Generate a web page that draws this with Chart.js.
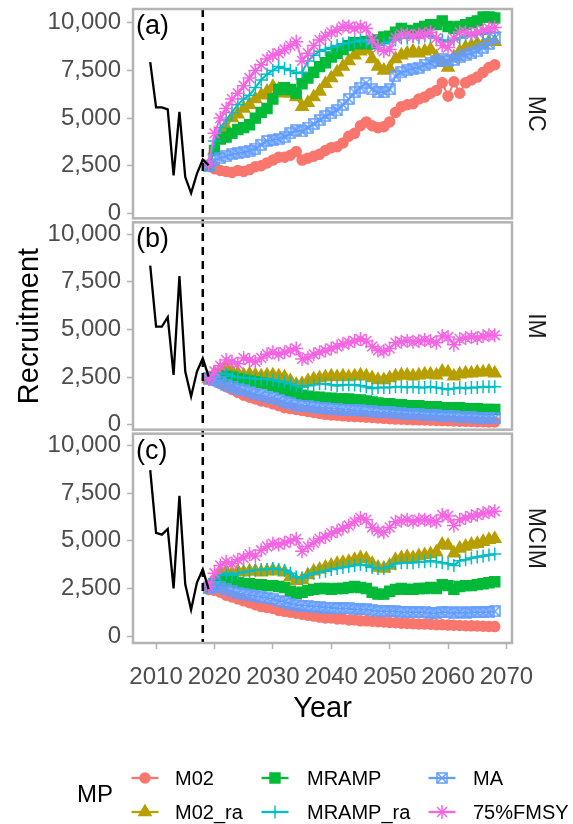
<!DOCTYPE html>
<html>
<head>
<meta charset="utf-8">
<title>Recruitment by MP</title>
<script src="https://cdn.jsdelivr.net/npm/chart.js@4.4.1/dist/chart.umd.min.js"></script>
<style>
  html, body { margin: 0; padding: 0; background: #fff; }
  #wrap { position: relative; width: 573px; height: 824px; }
</style>
</head>
<body>
<div id="wrap"><canvas id="chart" width="573" height="824"></canvas></div>
<script>
var years = [2019,2020,2021,2022,2023,2024,2025,2026,2027,2028,
  2029,2030,2031,2032,2033,2034,2035,2036,2037,2038,
  2039,2040,2041,2042,2043,2044,2045,2046,2047,2048,
  2049,2050,2051,2052,2053,2054,2055,2056,2057,2058,
  2059,2060,2061,2062,2063,2064,2065,2066,2067,2068];
var histYears = [2009,2010,2011,2012,2013,2014,2015,2016,2017,2018,2019];

var mpNames = ['M02', 'M02_ra', 'MRAMP', 'MRAMP_ra', 'MA', '75%FMSY'];
var panelNames = ['MC', 'IM', 'MCIM'];
var panelTags = ['(a)', '(b)', '(c)'];

var xTicks = [2010, 2020, 2030, 2040, 2050, 2060, 2070];
var yTicks = [0, 2500, 5000, 7500, 10000];
var yTickLabels = ['0', '2,500', '5,000', '7,500', '10,000'];
var vlineYear = 2018;

// historical recruitment
var histMC = [7930,5560,5560,5460,2000,5330,1910,1070,2090,2830,2530];
var histIM = [8340,5150,5150,5640,2620,7800,2790,1480,2790,3490,2530];
var histMCIM = [8700,5410,5320,5620,2500,7350,2720,1390,2810,3500,2460];

// (a) MC
var mcM02 = [2550,2350,2250,2200,2150,2250,2200,2300,2450,2500,
  2650,2800,2950,2950,3050,3250,2800,2900,3000,3100,
  3300,3450,3500,3700,4050,4200,4600,4800,4600,4500,
  4550,4800,5300,5600,5700,5750,6000,6100,6300,6450,
  6850,6150,6900,6300,6850,7000,7150,7400,7650,7800];
var mcM02ra = [2500,3300,4000,4500,5000,5200,5500,5700,6000,6200,
  6400,6650,6500,6300,6300,6100,5600,5800,6100,6400,
  6800,7100,7400,7700,8000,8300,8500,8600,8100,7700,
  7500,7600,8100,8300,8400,8500,8400,8500,8600,8200,
  7900,7650,8200,8500,8700,8800,8900,8850,9000,9000];
var mcMRAMP = [2500,3300,3900,4000,4200,4400,4500,4650,5000,5300,
  5500,6000,6500,6600,6500,6300,6800,7100,7400,7700,
  7900,8200,8400,8600,8800,8950,8900,9000,8900,9100,
  9250,9300,9500,9700,9600,9500,9700,9800,9900,9900,
  10100,9800,9700,9800,9900,10000,10100,10300,10300,10250];
var mcMRAMPra = [2500,3800,4500,4900,5300,5700,6000,6200,6600,7000,
  7300,7500,7700,7600,7500,7350,7400,8000,8300,8500,
  8600,8700,8800,8900,8950,9000,9100,9000,8900,8800,
  8900,9000,9100,9200,9200,9300,9200,9300,9300,9200,
  9100,9000,9100,9200,9300,9300,9400,9400,9500,9500];
var mcMA = [2500,2800,2900,3000,3100,3150,3200,3300,3400,3600,
  3800,3850,3900,4000,4200,4350,4300,4500,4700,4900,
  5100,5250,5400,5700,6000,6350,6600,6850,6500,6350,
  6350,6500,7200,7400,7500,7600,7650,7800,7900,8000,
  8100,8000,8050,8200,8300,8400,8500,8700,8900,9200];
var mcFMSY = [2600,4200,5000,5500,6000,6300,6700,7100,7500,7800,
  8100,8300,8400,8600,8800,9000,8000,8400,8800,9100,
  9300,9500,9600,9800,9800,9700,9800,9700,9100,8700,
  8500,8600,9200,9400,9400,9300,9400,9400,9500,9200,
  8800,8700,9200,9500,9500,9400,9500,9600,9700,9750];

// (b) IM
var imM02 = [2400,2300,2150,2000,1850,1700,1550,1450,1350,1250,
  1200,1100,1000,900,850,800,750,700,650,600,
  550,520,500,470,450,430,420,400,380,360,
  340,320,300,290,280,270,260,250,240,230,
  220,210,200,190,180,170,160,160,150,150];
var imM02ra = [2400,2700,2900,3000,2800,2700,2600,2650,2600,2550,
  2600,2600,2550,2500,2300,2100,2150,2300,2400,2450,
  2500,2550,2500,2550,2500,2550,2600,2550,2450,2350,
  2350,2450,2550,2600,2600,2550,2600,2650,2650,2600,
  2800,2750,2550,2650,2700,2700,2750,2750,2800,2700];
var imMRAMP = [2450,2500,2550,2550,2500,2400,2350,2300,2250,2200,
  2150,2050,1950,1850,1750,1650,1550,1500,1450,1450,
  1400,1400,1350,1350,1350,1300,1300,1250,1200,1150,
  1100,1100,1050,1050,1000,1000,1000,950,950,950,
  900,900,900,900,850,850,850,800,800,800];
var imMRAMPra = [2450,2600,2700,2650,2550,2500,2450,2450,2400,2400,
  2400,2350,2300,2250,2150,2050,2000,2050,2100,2150,
  2150,2100,2050,2100,2100,2100,2050,2000,1900,1950,
  1950,1950,2000,2000,1950,2000,1950,1950,2000,1950,
  1900,1850,1900,1950,1900,1950,1950,2000,2000,2000];
var imMA = [2400,2350,2250,2100,2000,1900,1800,1700,1600,1550,
  1450,1400,1300,1200,1150,1050,1000,1000,950,900,
  900,850,850,800,800,750,750,700,700,650,
  650,650,600,600,550,550,550,500,500,500,
  450,450,450,400,400,400,380,370,350,350];
var imFMSY = [2400,2800,3100,3400,3300,3200,3500,3400,3300,3500,
  3700,3800,3700,3800,3900,4000,3450,3500,3700,3800,
  3900,4000,4100,4250,4300,4400,4500,4400,4100,3900,
  3850,4000,4300,4350,4400,4350,4400,4450,4400,4300,
  4650,4600,4200,4500,4550,4600,4550,4650,4700,4700];

// (c) MCIM
var mcimM02 = [2450,2400,2300,2150,2050,1950,1850,1750,1650,1550,
  1500,1450,1350,1300,1250,1200,1150,1100,1050,1000,
  950,950,900,900,850,850,800,800,780,760,
  740,720,700,680,660,650,640,630,620,600,
  600,580,570,560,550,540,530,520,510,500];
var mcimM02ra = [2600,3000,3300,3400,3300,3400,3350,3400,3400,3350,
  3400,3450,3400,3350,3100,2900,2950,3200,3400,3500,
  3600,3700,3800,3850,3900,4000,4100,4050,3800,3600,
  3550,3700,4000,4100,4150,4100,4200,4250,4300,4400,
  4800,4750,4350,4600,4700,4800,4850,4950,5050,5100];
var mcimMRAMP = [2550,2750,2850,2900,2850,2800,2750,2750,2700,2700,
  2650,2650,2600,2550,2350,2250,2300,2400,2450,2500,
  2500,2450,2500,2500,2550,2600,2550,2500,2300,2200,
  2200,2350,2450,2500,2450,2450,2500,2500,2550,2500,
  2700,2650,2450,2600,2650,2650,2700,2750,2800,2850];
var mcimMRAMPra = [2600,3000,3200,3300,3200,3300,3350,3400,3450,3500,
  3500,3550,3500,3450,3300,3100,3050,3200,3300,3350,
  3400,3500,3550,3600,3650,3700,3750,3700,3600,3550,
  3550,3650,3800,3850,3850,3850,3900,3900,3950,3900,
  3850,3800,3700,3950,4000,4100,4150,4200,4250,4300];
var mcimMA = [2500,2550,2550,2450,2350,2250,2200,2150,2100,2050,
  2000,1950,1850,1800,1700,1650,1600,1600,1550,1550,
  1500,1500,1450,1450,1450,1400,1400,1400,1350,1300,
  1300,1300,1300,1250,1250,1250,1250,1250,1200,1200,
  1250,1250,1200,1250,1200,1250,1250,1250,1250,1300];
var mcimFMSY = [2600,3300,3700,3900,3800,4000,4100,4300,4200,4500,
  4700,4850,4800,4900,5000,5100,4450,4700,4900,5100,
  5200,5400,5500,5650,5800,6000,6200,6100,5700,5500,
  5450,5700,6000,6050,6100,6000,6100,6100,6050,6000,
  6350,6300,5800,6100,6200,6300,6350,6450,6500,6550];

(function () {
  var FONT = '"Liberation Sans", Arial, sans-serif';
  // each facet gets its own band of one shared y axis
  var Y_MIN = -360, Y_SPAN = 11080;
  var panelOffset = [2 * Y_SPAN, Y_SPAN, 0];
  var panelHist = [histMC, histIM, histMCIM];
  var panelSeries = [
    [mcM02, mcM02ra, mcMRAMP, mcMRAMPra, mcMA, mcFMSY],
    [imM02, imM02ra, imMRAMP, imMRAMPra, imMA, imFMSY],
    [mcimM02, mcimM02ra, mcimMRAMP, mcimMRAMPra, mcimMA, mcimFMSY]
  ];

  function boxX(color) {
    var c = document.createElement('canvas');
    c.width = 12; c.height = 12;
    var g = c.getContext('2d');
    g.strokeStyle = color;
    g.lineWidth = 1.5;
    g.strokeRect(1, 1, 10, 10);
    g.beginPath();
    g.moveTo(1, 1); g.lineTo(11, 11);
    g.moveTo(11, 1); g.lineTo(1, 11);
    g.stroke();
    return c;
  }

  var mpStyles = [
    { color: '#F8766D', point: 'circle', radius: 5 },
    { color: '#B79F00', point: 'triangle', radius: 7 },
    { color: '#00BA38', point: 'rect', radius: 7 },
    { color: '#00BFC4', point: 'cross', radius: 6.5 },
    { color: '#619CFF', point: boxX('#619CFF'), radius: 6 },
    { color: '#F564E3', point: 'star', radius: 7 }
  ];

  function toPoints(xs, vals, off) {
    return vals.map(function (v, i) { return { x: xs[i], y: v + off }; });
  }

  var datasets = [];
  panelSeries.forEach(function (series, pi) {
    var off = panelOffset[pi];
    datasets.push({
      label: 'history',
      data: toPoints(histYears, panelHist[pi], off),
      borderColor: '#000', borderWidth: 2.3, pointRadius: 0, order: 0
    });
    series.forEach(function (vals, si) {
      var st = mpStyles[si];
      datasets.push({
        label: mpNames[si],
        data: toPoints(years, vals, off),
        borderColor: st.color, backgroundColor: st.color, borderWidth: 2,
        pointStyle: st.point, pointRadius: st.radius, pointBorderWidth: 1.5,
        pointBackgroundColor: st.color, pointBorderColor: st.color,
        order: 10 - si
      });
    });
  });

  function panelBox(chart, pi) {
    var y = chart.scales.y, a = chart.chartArea;
    var top = y.getPixelForValue(Y_MIN + (3 - pi) * Y_SPAN) + (pi > 0 ? 2 : 0);
    var bottom = y.getPixelForValue(Y_MIN + (2 - pi) * Y_SPAN) - (pi < 2 ? 2 : 0);
    return { left: a.left, right: a.right, top: top, bottom: bottom };
  }

  var facetPlugin = {
    id: 'facets',
    afterDatasetsDraw: function (chart) {
      var ctx = chart.ctx, a = chart.chartArea;
      var vx = chart.scales.x.getPixelForValue(vlineYear);
      ctx.save();
      ctx.strokeStyle = '#000';
      ctx.lineWidth = 2.5;
      ctx.setLineDash([8, 6]);
      ctx.beginPath();
      ctx.moveTo(vx, a.top);
      ctx.lineTo(vx, a.bottom);
      ctx.stroke();
      ctx.setLineDash([]);
      ctx.strokeStyle = '#B3B3B3';
      ctx.lineWidth = 2.5;
      for (var pi = 0; pi < 3; pi++) {
        var b = panelBox(chart, pi);
        ctx.strokeRect(b.left, b.top, b.right - b.left, b.bottom - b.top);
      }
      ctx.restore();
    },
    afterDraw: function (chart) {
      var ctx = chart.ctx, a = chart.chartArea;
      ctx.save();
      for (var pi = 0; pi < 3; pi++) {
        var b = panelBox(chart, pi);
        ctx.fillStyle = '#000';
        ctx.font = '27px ' + FONT;
        ctx.textAlign = 'left';
        ctx.textBaseline = 'alphabetic';
        ctx.fillText(panelTags[pi], 136, b.top + 25);

        ctx.save();
        ctx.translate(535, (b.top + b.bottom) / 2);
        ctx.rotate(Math.PI / 2);
        ctx.fillStyle = '#1A1A1A';
        ctx.font = '23px ' + FONT;
        ctx.textAlign = 'center';
        ctx.textBaseline = 'middle';
        ctx.fillText(panelNames[pi], 0, 0);
        ctx.restore();
      }

      ctx.fillStyle = '#000';
      ctx.font = '29px ' + FONT;
      ctx.textAlign = 'center';
      ctx.textBaseline = 'middle';
      ctx.fillText('Year', (a.left + a.right) / 2, 709);
      ctx.save();
      ctx.translate(30, (a.top + a.bottom) / 2);
      ctx.rotate(-Math.PI / 2);
      ctx.fillText('Recruitment', 0, 0);
      ctx.restore();

      // legend, filled by column like ggplot
      ctx.textAlign = 'left';
      ctx.font = '24px ' + FONT;
      ctx.fillText('MP', 77, 795);
      var colKey = [145, 275, 442];
      var colText = [175, 307, 473];
      var rowY = [778, 812];
      ctx.font = '20px ' + FONT;
      mpNames.forEach(function (name, i) {
        var col = Math.floor(i / 2), row = i % 2, st = mpStyles[i];
        var cx = colKey[col], cy = rowY[row];
        ctx.strokeStyle = st.color;
        ctx.fillStyle = st.color;
        ctx.lineWidth = 2.3;
        ctx.beginPath();
        ctx.moveTo(cx - 13.5, cy);
        ctx.lineTo(cx + 13.5, cy);
        ctx.stroke();
        ctx.lineWidth = 1.5;
        Chart.helpers.drawPoint(ctx, { pointStyle: st.point, radius: st.radius, rotation: 0, borderWidth: 1.5 }, cx, cy);
        ctx.fillStyle = '#000';
        ctx.fillText(name, colText[col], cy + 1);
      });
      ctx.restore();
    }
  };

  new Chart(document.getElementById('chart'), {
    type: 'line',
    data: { datasets: datasets },
    options: {
      responsive: false,
      animation: false,
      devicePixelRatio: 1,
      layout: { padding: { top: 9, right: 61, left: 0, bottom: 0 } },
      plugins: { legend: { display: false }, tooltip: { enabled: false } },
      scales: {
        x: {
          type: 'linear',
          min: 2006.05,
          max: 2070.95,
          afterBuildTicks: function (s) { s.ticks = xTicks.map(function (v) { return { value: v }; }); },
          afterFit: function (s) { s.height = 181; s.paddingLeft = 0; s.paddingRight = 0; },
          border: { display: false },
          grid: { drawOnChartArea: false, tickLength: 6, tickColor: '#B3B3B3', tickWidth: 1.5 },
          ticks: {
            color: '#4D4D4D', font: { family: FONT, size: 24 }, padding: 14,
            maxRotation: 0, autoSkip: false,
            callback: function (v) { return String(v); }
          }
        },
        y: {
          type: 'linear',
          min: Y_MIN,
          max: Y_MIN + 3 * Y_SPAN,
          afterBuildTicks: function (s) {
            var t = [];
            panelOffset.forEach(function (off) {
              yTicks.forEach(function (v) { t.push({ value: v + off }); });
            });
            s.ticks = t;
          },
          afterFit: function (s) { s.width = 133; s.paddingTop = 0; s.paddingBottom = 0; },
          border: { display: false },
          grid: { drawOnChartArea: false, tickLength: 6, tickColor: '#B3B3B3', tickWidth: 1.5 },
          ticks: {
            color: '#4D4D4D', font: { family: FONT, size: 24 }, padding: 6, autoSkip: false,
            callback: function (v) {
              for (var pi = 0; pi < 3; pi++) {
                var k = yTicks.indexOf(Math.round(v - panelOffset[pi]));
                if (k >= 0) return yTickLabels[k];
              }
              return '';
            }
          }
        }
      }
    },
    plugins: [facetPlugin]
  });
})();
</script>
</body>
</html>
